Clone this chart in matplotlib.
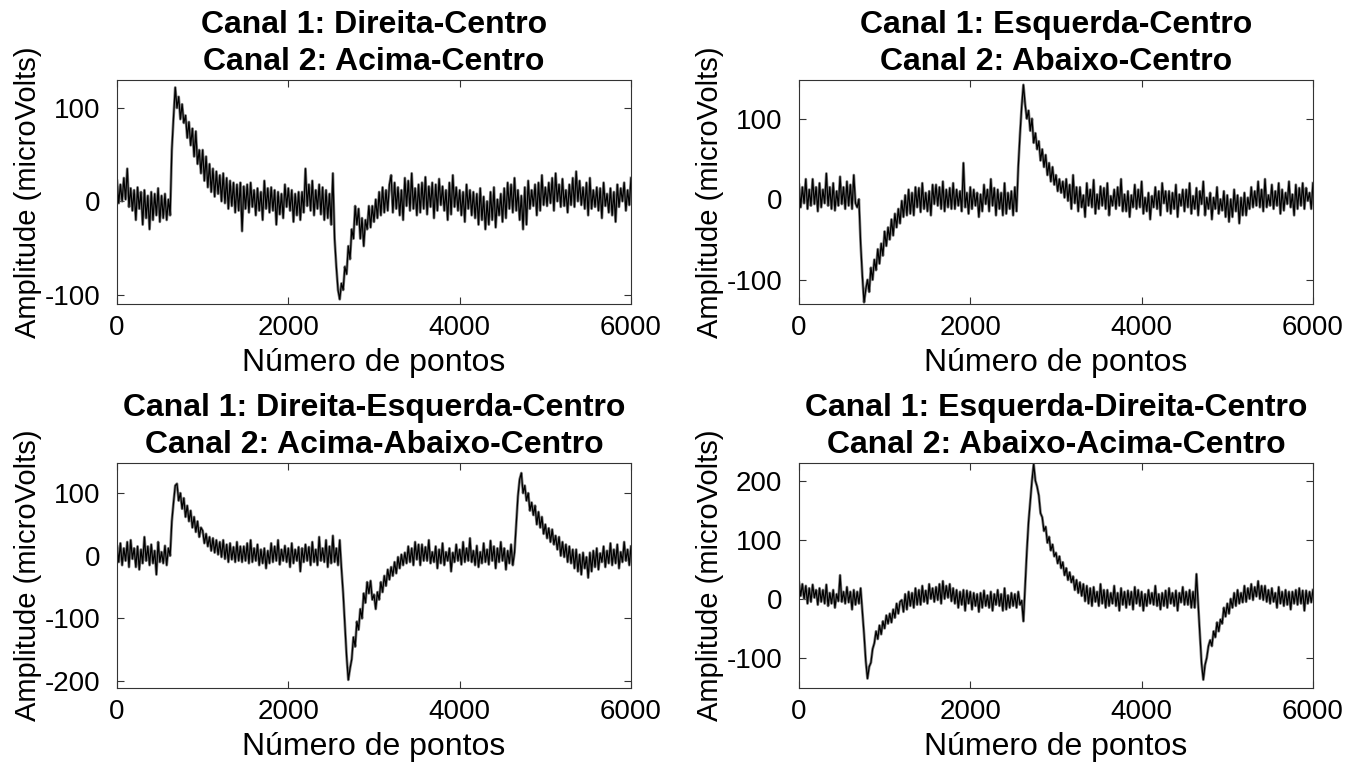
import numpy as np
import matplotlib
matplotlib.use('Agg')
import matplotlib.pyplot as plt

plt.rcParams['font.family'] = ['Liberation Sans', 'DejaVu Sans']
plt.rcParams['axes.unicode_minus'] = False

# eixo x: numero de pontos (lido a cada 20 pontos)
pontos = np.arange(0, 6001, 20)

# sinais (microVolts)
dir_centro = [
    22, -2, 18, 0, 25, 2, 35, -6, 14, -10,
    12, -20, 15, -8, 10, -25, 12, -18, 6, -30,
    10, -20, 8, -15, 14, -22, 6, -18, 8, -20,
    2, -15, 55, 90, 122, 100, 112, 88, 104, 84,
    92, 68, 85, 60, 78, 48, 75, 40, 55, 30,
    55, 22, 48, 15, 40, 10, 35, 5, 32, 8,
    28, 0, 30, -2, 25, -8, 22, -5, 20, -12,
    18, -10, 20, -32, 16, -8, 18, -12, 20, -6,
    12, -15, 14, -10, 10, -20, 22, -8, 14, -12,
    15, -10, 12, -25, 10, -14, 8, -18, 18, -6,
    14, -10, 12, -22, 8, -15, 10, -20, 10, -12,
    35, -5, 18, -10, 22, -15, 12, -8, 18, -14,
    15, -20, 12, -18, 8, -25, 30, -40, -70, -95,
    -105, -88, -95, -70, -78, -48, -62, -30, -40, -5,
    -25, -8, -40, -18, -48, -20, -30, -5, -28, -5,
    -22, 2, -18, 10, -15, 15, -12, 12, -10, 18,
    28, -12, 20, -8, 15, -15, 12, -20, 25, -5,
    22, -10, 30, -8, 14, -15, 18, -12, 20, -8,
    26, -14, 16, -6, 20, -18, 18, -10, 24, -4,
    16, -10, 12, -20, 20, -14, 28, -6, 15, -10,
    12, -15, 10, -22, 18, -8, 12, -15, 10, -18,
    8, -25, 14, -20, 5, -30, 0, -25, 10, -20,
    15, -28, 2, -15, 8, -22, 14, -18, 20, -8,
    18, -12, 25, -10, 12, -20, 6, -30, 15, -25,
    22, -8, 12, -5, 18, -15, 20, -10, 28, -4,
    15, -5, 20, -2, 25, -10, 30, 0, 18, -6,
    24, -5, 12, -12, 18, -4, 25, -6, 32, 0,
    22, -4, 15, -8, 20, -15, 25, -8, 12, -6,
    15, -10, 14, -18, 20, -5, 8, -12, 14, -15,
    10, -22, 18, -6, 14, 0, 20, -10, 12, -4,
    25]

esq_centro = [
    18, -10, 15, -5, 25, -12, 12, -8, 25, -6,
    15, -15, 20, -10, 12, -5, 32, -8, 15, -12,
    20, -14, 10, -8, 28, -6, 15, -12, 22, -8,
    18, -12, 30, -5, -10, 0, -55, -95, -128, -112,
    -100, -115, -85, -100, -75, -88, -62, -80, -55, -70,
    -40, -58, -35, -50, -25, -45, -18, -35, -12, -30,
    -2, -22, 5, -20, 12, -18, 8, -20, 15, -10,
    14, -16, 20, -12, 8, -15, 10, -20, 18, -6,
    18, -8, 15, -12, 22, -15, 12, -10, 14, -12,
    20, -12, 12, -8, 10, -15, 45, -10, 8, -18,
    15, -12, 12, -8, 8, -22, 6, -15, 18, -6,
    12, -15, 25, -8, 14, -20, 12, -12, 8, -20,
    20, -18, 8, -12, 10, -20, 15, -15, 40, 80,
    115, 142, 118, 100, 110, 85, 100, 70, 82, 62,
    72, 48, 62, 40, 55, 30, 45, 22, 40, 18,
    30, 10, 25, 8, 22, 2, 25, -2, 18, -12,
    30, -5, 15, -15, 15, -10, 5, -22, 20, -8,
    12, -10, 24, -18, 6, -12, 16, -8, 14, -12,
    20, -20, 4, -8, 12, -12, 15, -8, 25, -15,
    6, -15, 10, -22, 5, -10, 18, -12, 12, -10,
    22, -18, 2, -15, 8, -25, 4, -10, 15, -12,
    10, -20, 20, -5, 10, -15, 10, -18, 8, -12,
    18, -22, 6, -8, 12, -15, 12, -10, 20, -18,
    4, -12, 14, -20, 10, -6, 22, -20, 2, -12,
    8, -25, 2, -12, 15, -18, 0, -14, 10, -22,
    5, -28, 0, -22, 12, -15, 5, -30, 2, -20,
    8, -20, 2, -12, 15, -10, 10, -8, 22, -10,
    12, -15, 25, -10, 5, -8, 18, -12, 10, -8,
    20, -18, 12, -14, 8, -6, 22, -10, 6, -20,
    18, -12, 14, -8, 20, -12, 14, -2, 8, -12,
    20]

dir_esq_centro = [
    15, -10, 20, -15, 12, -8, 22, -18, 25, -5,
    12, -18, 15, -22, 10, -12, 30, -8, 15, -15,
    18, -12, 8, -30, 22, -10, 6, -12, 16, -15,
    12, 0, 55, 85, 112, 115, 88, 100, 75, 92,
    62, 80, 55, 72, 45, 62, 38, 55, 30, 45,
    40, 20, 35, 15, 30, 8, 28, 5, 25, 2,
    22, -2, 25, -5, 18, -10, 20, -6, 14, -10,
    22, -8, 15, -10, 15, -8, 20, -12, 25, -10,
    12, -8, 18, -15, 10, -12, 12, -20, 8, -12,
    20, -10, 15, -8, 25, -14, 10, -8, 16, -10,
    12, -18, 20, -12, 10, -8, 14, -25, 12, -10,
    18, -8, 14, -15, 22, -10, 10, -15, 30, -8,
    12, -10, 25, -18, 15, -12, 32, -10, 12, -15,
    25, -20, -60, -110, -160, -198, -180, -165, -130, -145,
    -105, -118, -85, -100, -60, -75, -42, -60, -40, -70,
    -62, -85, -58, -70, -42, -58, -32, -48, -22, -38,
    -18, -32, -10, -28, -2, -20, 2, -15, 5, -12,
    15, -10, 12, -15, 22, -6, 18, -15, 18, -8,
    14, -8, 25, -12, 6, -10, 15, -20, 10, -12,
    20, -15, 6, -8, 12, -25, 5, -10, 18, -8,
    10, -14, 22, -10, 12, -8, 28, -10, 8, -15,
    16, -18, 6, -12, 20, -10, 10, -14, 24, -8,
    15, -20, 12, -10, 22, -8, 12, -22, 8, -12,
    18, -15, 5, 50, 95, 122, 132, 100, 112, 88,
    100, 72, 85, 65, 80, 50, 70, 45, 62, 35,
    50, 28, 44, 22, 42, 18, 32, 10, 30, 0,
    22, -2, 18, -10, 15, -12, 10, -20, 10, -25,
    2, -30, 5, -20, -2, -35, 5, -25, 8, -18,
    12, -22, 4, -10, 15, -18, 8, -12, 20, -15,
    10, -12, 18, -20, 6, -10, 22, -8, 10, -15,
    15]

esq_dir_centro = [
    28, 5, 25, 0, 22, -8, 18, -5, 24, 2,
    15, -10, 18, -5, 15, -8, 24, -12, 10, -8,
    15, -15, 8, -4, 40, -5, 12, -8, 20, -6,
    12, -18, 15, -10, 12, -8, 18, -20, -60, -105,
    -135, -115, -108, -85, -75, -55, -68, -45, -60, -38,
    -50, -28, -42, -25, -40, -18, -32, -8, -25, -5,
    -2, -22, 8, -18, 12, -12, 10, -15, 18, -10,
    15, -10, 22, -5, 14, -8, 25, 0, 18, -5,
    20, -2, 25, -8, 30, 0, 22, 2, 25, -4,
    18, -8, 15, -15, 12, -10, 15, -20, 14, -8,
    12, -18, 10, -12, 8, -22, 10, -15, 14, -12,
    6, -15, 12, -20, 8, -10, 15, -12, 8, -20,
    18, -18, 6, -15, 10, -12, 8, -15, 12, -10,
    -3, -38, 20, 80, 130, 165, 200, 228, 200, 190,
    175, 145, 138, 115, 122, 95, 105, 82, 92, 72,
    78, 60, 72, 52, 62, 40, 52, 32, 45, 28,
    38, 15, 32, 10, 28, 5, 25, -4, 22, -8,
    18, -12, 20, -5, 12, -12, 25, -8, 15, -15,
    15, -12, 10, -8, 22, -12, 10, -20, 18, -10,
    12, -15, 14, -10, 12, -18, 20, -8, 15, -12,
    12, -20, 8, -12, 15, -8, 10, -10, 22, -12,
    8, -18, 10, -12, 14, -15, 18, -8, 10, -12,
    14, -20, 10, -6, 20, -10, 12, -10, 15, -15,
    12, -15, 42, -10, -60, -110, -137, -112, -100, -80,
    -70, -80, -55, -65, -40, -55, -35, -42, -15, -30,
    -8, -25, 0, -15, 10, -12, 15, -8, 10, -6,
    22, -5, 18, 0, 25, -2, 20, 4, 30, 0,
    22, -2, 22, -5, 15, -8, 18, -5, 10, -15,
    20, -8, 12, -12, 15, -10, 12, -18, 12, -8,
    15, -10, 18, -8, 14, -20, 14, -8, 12, -6,
    15]

titulos = ['Canal 1: Direita-Centro\nCanal 2: Acima-Centro',
           'Canal 1: Esquerda-Centro\nCanal 2: Abaixo-Centro',
           'Canal 1: Direita-Esquerda-Centro\nCanal 2: Acima-Abaixo-Centro',
           'Canal 1: Esquerda-Direita-Centro\nCanal 2: Abaixo-Acima-Centro']
sinais = [dir_centro, esq_centro, dir_esq_centro, esq_dir_centro]
limites = [(-110, 130), (-130, 148), (-211, 148), (-151, 230)]
yticks = [[-100, 0, 100], [-100, 0, 100], [-200, -100, 0, 100], [-100, 0, 100, 200]]

posicoes = [[0.0859, 0.6037, 0.3774, 0.292],
            [0.5866, 0.6037, 0.3774, 0.292],
            [0.0859, 0.1030, 0.3774, 0.2933],
            [0.5866, 0.1030, 0.3774, 0.2933]]

fig = plt.figure(figsize=(13.62, 7.67), dpi=100)
for k in range(4):
    ax = fig.add_axes(posicoes[k])
    ax.plot(pontos, sinais[k], color='#808080', lw=2.0)
    ax.plot(pontos, sinais[k], color='black', lw=0.9)
    ax.set_xlim(0, 6000)
    ax.set_ylim(limites[k])
    ax.set_xticks([0, 2000, 4000, 6000])
    ax.set_yticks(yticks[k])
    ax.tick_params(direction='in', top=True, right=True, length=5,
                   labelsize=20, color='#333333')
    ax.tick_params(axis='x', pad=8)
    ax.tick_params(axis='y', pad=12)
    for s in ax.spines.values():
        s.set_color('#333333')
    ax.set_xlabel('Número de pontos', fontsize=23, labelpad=5)
    ax.set_ylabel('Amplitude (microVolts)', fontsize=21, labelpad=2)
    ax.set_title(titulos[k], fontsize=23, fontweight='bold', linespacing=1.32, pad=7)

plt.savefig('out.png', dpi=100)
